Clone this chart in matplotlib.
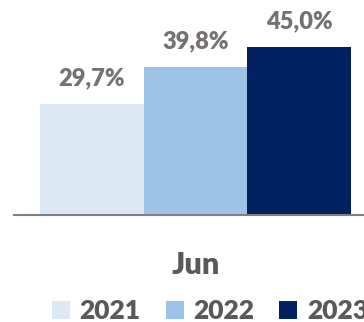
import matplotlib.pyplot as plt

years = ['2021', '2022', '2023']
values = [29.7, 39.8, 45.0]
month = 'Jun'
colors = ['#DDE8F5', '#9DC3E6', '#002060']

plt.rcParams['font.family'] = ['Lato', 'DejaVu Sans']

fig = plt.figure(figsize=(3.64, 3.22), dpi=100)
ax = fig.add_axes([14 / 364, 107 / 322, 350 / 364, 215 / 322])

pos = [-1, 0, 1]
bars = []
for p, v, c, y in zip(pos, values, colors, years):
    b = ax.bar(p, v, width=1.0, color=c, label=y)
    bars.append(b)
    ax.text(p, v + 5.0, f'{v:.1f}%'.replace('.', ','), ha='center', va='baseline',
            fontsize=17, fontweight='heavy', color='#767171')

ax.set_xlim(-1.751, 1.625)
ax.set_ylim(0, 57.64)
for s in ['top', 'left', 'right']:
    ax.spines[s].set_visible(False)
ax.spines['bottom'].set_color('#808080')
ax.spines['bottom'].set_linewidth(1.5)
ax.set_yticks([])
ax.set_xticks([])

# category label under the group
ax.text(pos[1], -59 / 215, month, transform=ax.get_xaxis_transform(), ha='center', va='baseline',
        fontsize=22, fontweight='heavy', color='#595959')

fig.legend(handles=bars, labels=years, loc='upper left', bbox_to_anchor=(39 / 364, 1 - 286 / 322),
           ncol=3, frameon=False, handlelength=0.68, handleheight=0.68,
           handletextpad=0.36, columnspacing=0.95, borderpad=0,
           prop={'family': 'Lato', 'weight': 'heavy', 'size': 19}, labelcolor='#595959')

fig.savefig('out.png', dpi=100)
